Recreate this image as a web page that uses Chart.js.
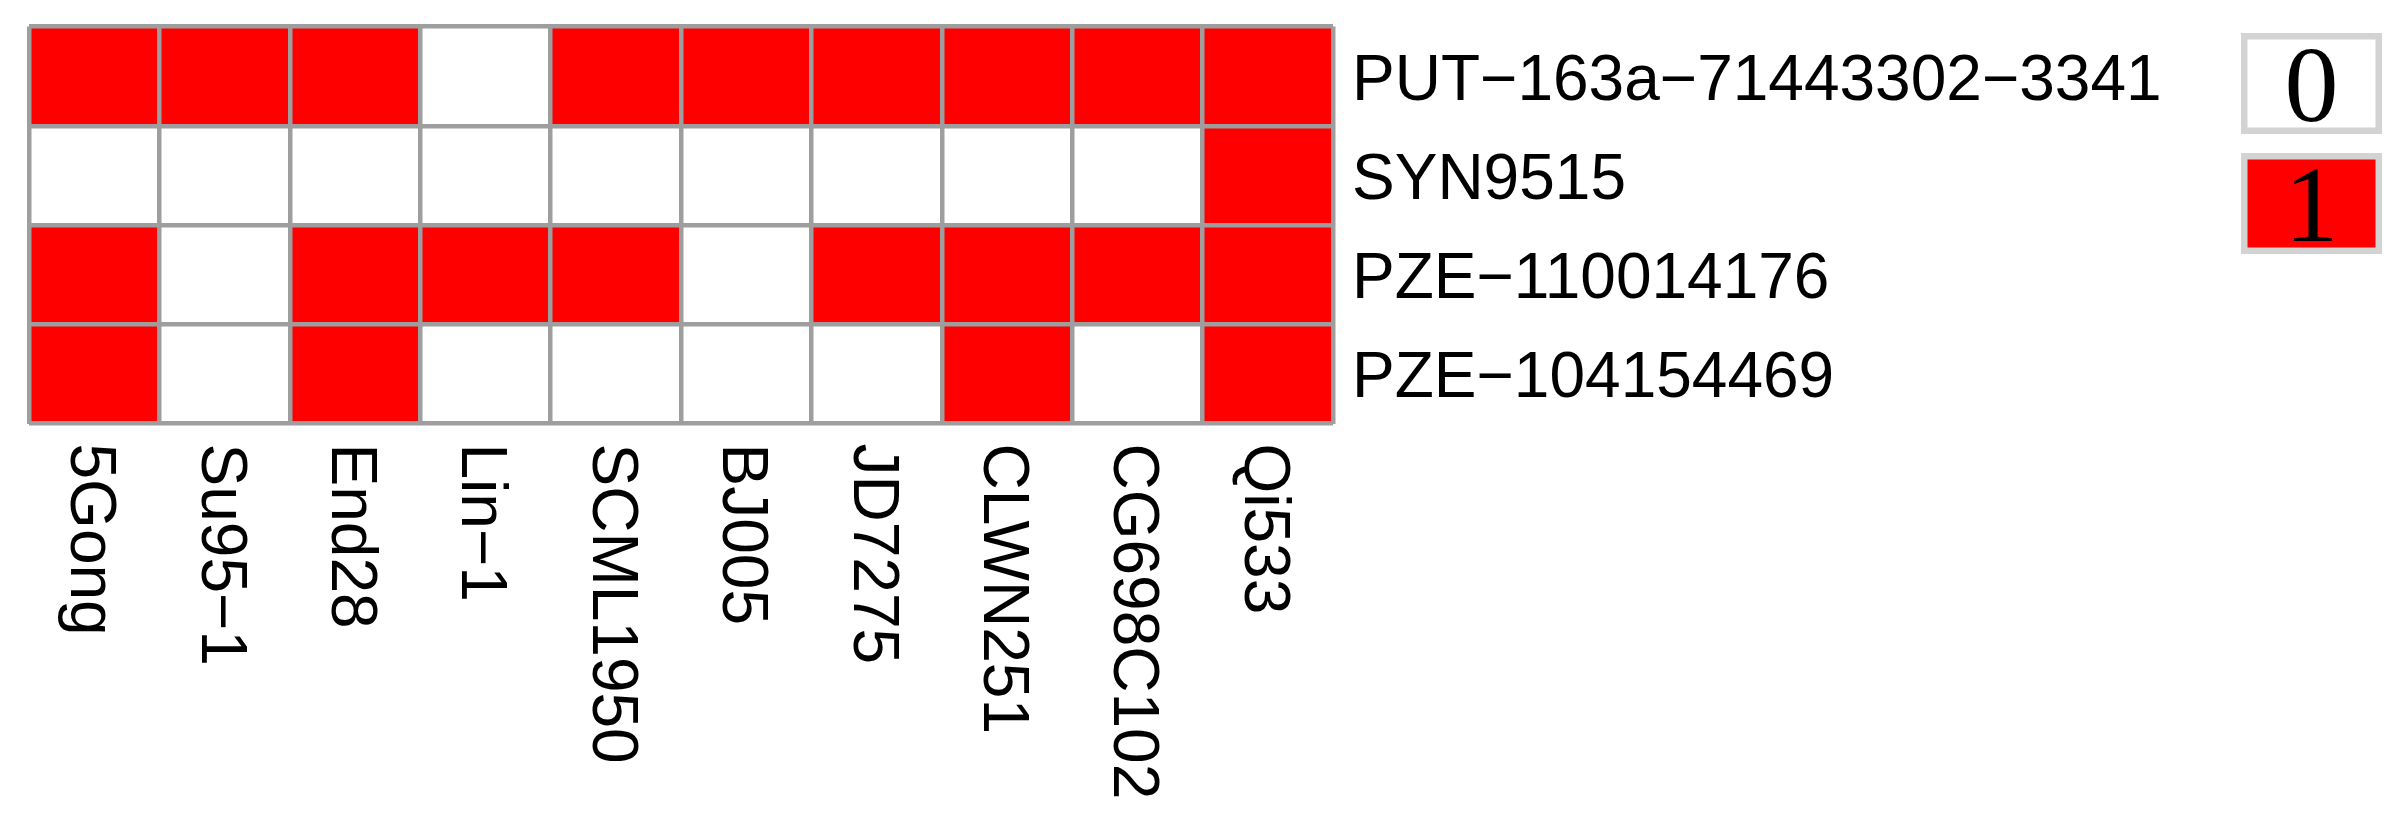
<!DOCTYPE html>
<html>
<head>
<meta charset="utf-8">
<script src="https://cdn.jsdelivr.net/npm/chart.js@4.4.1/dist/chart.umd.min.js"></script>
<style>
  html, body { margin: 0; padding: 0; background: #fff; }
  #wrap { width: 2405px; height: 834px; position: relative; }
</style>
</head>
<body>
<div id="wrap"><canvas id="chart"></canvas></div>
<script>
// genotypes (columns) and markers (rows, top to bottom)
const genotypes = ['5Gong', 'Su95−1', 'End28', 'Lin−1', 'SCML1950', 'BJ005', 'JD7275', 'CLWN251', 'CG698C102', 'Qi533'];
const markers = ['PUT−163a−71443302−3341', 'SYN9515', 'PZE−110014176', 'PZE−104154469'];

// 0 / 1 per genotype
const putRow = [1, 1, 1, 0, 1, 1, 1, 1, 1, 1];
const synRow = [0, 0, 0, 0, 0, 0, 0, 0, 0, 1];
const pze110Row = [1, 0, 1, 1, 1, 0, 1, 1, 1, 1];
const pze104Row = [1, 0, 1, 0, 0, 0, 0, 1, 0, 1];

const legendValues = ['0', '1'];
const cellColors = ['#ffffff', '#ff0000'];

const SANS = '"Liberation Sans", Arial, sans-serif';
const SERIF = '"Liberation Serif", "Times New Roman", serif';
const GRID = '#9e9e9e';

// stacked bottom -> top, each cell is one unit tall
const rows = [pze104Row, pze110Row, synRow, putRow];
const rowNames = [markers[3], markers[2], markers[1], markers[0]];
const datasets = rows.map((row, i) => ({
	label: rowNames[i],
	data: row.map(() => 1),
	backgroundColor: row.map((v) => cellColors[v]),
	borderWidth: 0,
	barPercentage: 1,
	categoryPercentage: 1,
}));

// axis labels: rotated genotypes below, markers to the right
const axisLabels = {
	id: 'axisLabels',
	afterDraw(chart) {
		const { ctx, chartArea } = chart;
		const x = chart.scales.x;
		const y2 = chart.scales.y2;
		ctx.save();
		ctx.font = '64px ' + SANS;
		ctx.fillStyle = '#000';
		ctx.textAlign = 'left';
		ctx.textBaseline = 'alphabetic';
		genotypes.forEach((g, i) => {
			const cx = x.getPixelForValue(i);
			ctx.save();
			ctx.translate(cx - 23, chartArea.bottom + 20);
			ctx.rotate(Math.PI / 2);
			ctx.fillText(g, 0, 0);
			ctx.restore();
		});
		markers.forEach((m, i) => {
			ctx.fillText(m, y2.left + 19, y2.getPixelForValue(i) + 23.5);
		});
		ctx.restore();
	},
};

// legend boxes with the value written inside
const legendBoxes = {
	id: 'legendBoxes',
	afterDraw(chart) {
		const ctx = chart.ctx;
		ctx.save();
		legendValues.forEach((v, i) => {
			const top = 33 + i * 120;
			ctx.fillStyle = cellColors[i];
			ctx.fillRect(2241, top, 141, 101);
			ctx.strokeStyle = '#d3d3d3';
			ctx.lineWidth = 6.5;
			ctx.strokeRect(2244.25, top + 3.25, 134.5, 94.5);
			ctx.fillStyle = '#000';
			ctx.font = '108px ' + SERIF;
			ctx.textAlign = 'center';
			ctx.textBaseline = 'alphabetic';
			ctx.fillText(v, 2311.5, top + 50.5 + 37);
		});
		ctx.restore();
	},
};

new Chart(document.getElementById('chart'), {
	type: 'bar',
	data: { labels: genotypes, datasets },
	plugins: [axisLabels, legendBoxes],
	options: {
		responsive: true,
		maintainAspectRatio: false,
		animation: false,
		layout: { padding: { left: 29, top: 26.5, right: 0, bottom: 410.5 } },
		plugins: { legend: { display: false }, tooltip: { enabled: false } },
		scales: {
			x: {
				stacked: true,
				offset: true,
				ticks: { display: false },
				grid: { offset: true, color: GRID, lineWidth: 4.5, drawTicks: false, z: 1 },
				border: { display: false },
			},
			y: {
				stacked: true,
				min: 0,
				max: 4,
				ticks: { display: false, stepSize: 1 },
				grid: { color: GRID, lineWidth: 4.5, drawTicks: false, z: 1 },
				border: { display: false },
			},
			y2: {
				type: 'category',
				position: 'right',
				labels: markers,
				offset: true,
				grid: { display: false, drawTicks: false },
				border: { display: false },
				ticks: { display: false },
				afterFit(scale) {
					scale.width = 1072;
					scale.paddingTop = 0;
					scale.paddingBottom = 0;
				},
			},
		},
	},
});
</script>
</body>
</html>
